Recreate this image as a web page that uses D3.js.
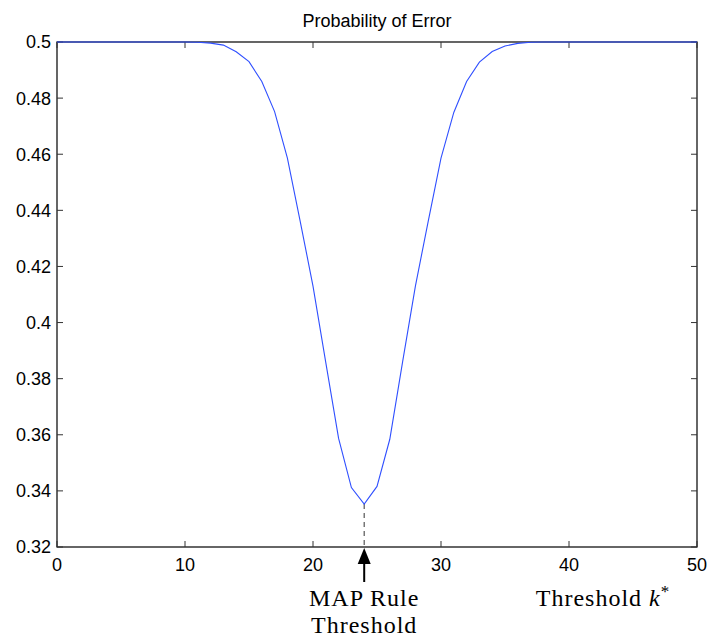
<!DOCTYPE html>
<html><head><meta charset="utf-8">
<script src="https://cdn.jsdelivr.net/npm/d3@7"></script>
<style>body{margin:0;background:#fff}svg{display:block}</style>
</head><body>
<script>
const thresholds = d3.range(0, 51);
const errorProb = [
  0.5,0.5,0.5,0.5,0.5,0.5,0.5,0.5,0.5,0.5,
  0.5,0.4999,0.4996,0.4989,0.4965,0.493,0.4859,0.4752,0.4586,0.4361,
  0.413,0.3857,0.3587,0.3412,0.3353,0.3416,0.3584,0.386,0.413,0.4361,
  0.4586,0.4749,0.4859,0.4928,0.4966,0.4986,0.4995,0.4999,0.5,0.5,
  0.5,0.5,0.5,0.5,0.5,0.5,0.5,0.5,0.5,0.5,0.5
];
const xTicks = [0,10,20,30,40,50];
const yTicks = [0.32,0.34,0.36,0.38,0.4,0.42,0.44,0.46,0.48,0.5];
const mapThreshold = 24;
const titleText = "Probability of Error";

const W = 711, H = 640;
const L = 57, R = 697, T = 42, B = 547;
const svg = d3.select("body").append("svg").attr("width", W).attr("height", H);
const x = d3.scaleLinear().domain([0,50]).range([L,R]);
const y = d3.scaleLinear().domain([0.32,0.5]).range([B,T]);

const sans = "'Liberation Sans', Arial, sans-serif";
const serif = "'Liberation Serif', 'DejaVu Serif', serif";

// frame
svg.append("rect").attr("x",L).attr("y",T).attr("width",R-L).attr("height",B-T)
  .attr("fill","none").attr("stroke","#000").attr("stroke-width",1.2);

// ticks (inward, mirrored)
const tl = 6;
xTicks.forEach(v=>{
  svg.append("line").attr("x1",x(v)).attr("x2",x(v)).attr("y1",B).attr("y2",B-tl).attr("stroke","#333");
  svg.append("line").attr("x1",x(v)).attr("x2",x(v)).attr("y1",T).attr("y2",T+tl).attr("stroke","#333");
  svg.append("text").attr("x",x(v)).attr("y",571).attr("text-anchor","middle")
    .attr("font-family",sans).attr("font-size",18).text(d3.format("d")(v));
});
yTicks.forEach(v=>{
  svg.append("line").attr("x1",L).attr("x2",L+tl).attr("y1",y(v)).attr("y2",y(v)).attr("stroke","#333");
  svg.append("line").attr("x1",R).attr("x2",R-tl).attr("y1",y(v)).attr("y2",y(v)).attr("stroke","#333");
  svg.append("text").attr("x",51).attr("y",y(v)).attr("dy","0.36em").attr("text-anchor","end")
    .attr("font-family",sans).attr("font-size",18).text(String(+v.toFixed(2)));
});

// title
svg.append("text").attr("x",(L+R)/2).attr("y",27).attr("text-anchor","middle")
  .attr("font-family",sans).attr("font-size",18).text(titleText);

// dashed line at MAP threshold
svg.append("line").attr("x1",x(mapThreshold)).attr("x2",x(mapThreshold))
  .attr("y1",y(errorProb[mapThreshold])).attr("y2",B)
  .attr("stroke","#555").attr("stroke-width",1.2).attr("stroke-dasharray","5,4");

// curve
const line = d3.line().x((d,i)=>x(thresholds[i])).y(d=>y(d));
svg.append("path").datum(errorProb).attr("d",line).attr("fill","none")
  .attr("stroke","#2f4fff").attr("stroke-width",1.1);

// arrow
const ax = x(mapThreshold);
svg.append("line").attr("x1",ax).attr("x2",ax).attr("y1",560).attr("y2",582)
  .attr("stroke","#000").attr("stroke-width",2);
svg.append("path").attr("d",`M${ax},${B+1} L${ax-6.5},${B+17} L${ax+6.5},${B+17} Z`).attr("fill","#000");

// labels
svg.append("text").attr("x",ax).attr("y",606).attr("text-anchor","middle")
  .attr("font-family",serif).attr("font-size",24).attr("letter-spacing",1).text("MAP Rule");
svg.append("text").attr("x",ax).attr("y",633).attr("text-anchor","middle")
  .attr("font-family",serif).attr("font-size",24).attr("letter-spacing",1).text("Threshold");
const t = svg.append("text").attr("x",603).attr("y",606).attr("text-anchor","middle")
  .attr("font-family",serif).attr("font-size",24).attr("letter-spacing",1);
t.append("tspan").text("Threshold ");
t.append("tspan").attr("font-style","italic").text("k");
t.append("tspan").attr("dy",-9).attr("font-size",17).text("*");
</script>
</body></html>
